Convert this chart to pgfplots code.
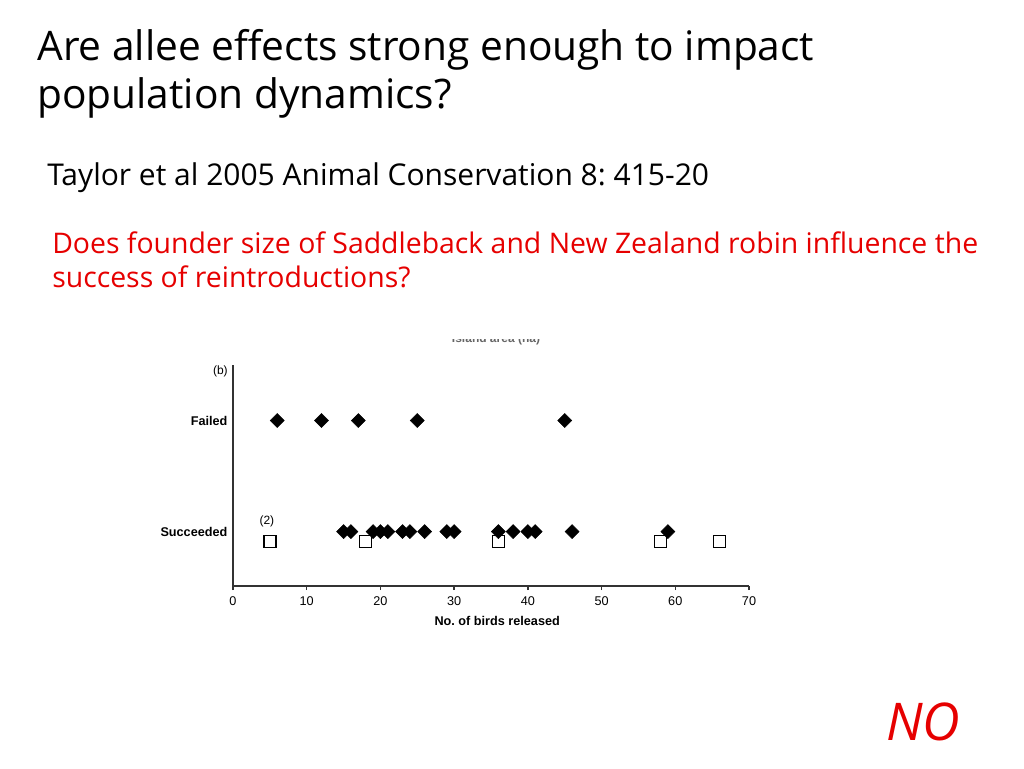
\documentclass[border=0pt]{standalone}
\usepackage{pgfplots}
\pgfplotsset{compat=1.18}
\usepackage{fontspec}
\setmainfont{Liberation Sans}
\newfontfamily\slidefont{Open Sans}
\definecolor{slidered}{RGB}{230,0,0}
\frenchspacing
\begin{document}
\begin{tikzpicture}
\path[fill=white] (0pt,0pt) rectangle (768pt,-576pt);
% slide text
\node[anchor=base west, inner sep=0pt] at (27.75pt,-45pt) {\slidefont\fontsize{30.5}{34}\selectfont Are allee effects strong enough to impact};
\node[anchor=base west, inner sep=0pt] at (27.75pt,-81pt) {\slidefont\fontsize{30.5}{34}\selectfont population dynamics?};
\node[anchor=base west, inner sep=0pt] at (35.25pt,-138.75pt) {\slidefont\fontsize{22.5}{26}\selectfont Taylor et al 2005 Animal Conservation 8: 415-20};
\node[anchor=base west, inner sep=0pt, text=slidered] at (39pt,-189.75pt) {\slidefont\fontsize{21.3}{25}\selectfont Does founder size of Saddleback and New Zealand robin influence the};
\node[anchor=base west, inner sep=0pt, text=slidered] at (39pt,-215.25pt) {\slidefont\fontsize{21.3}{25}\selectfont success of reintroductions?};
\node[anchor=base west, inner sep=0pt, text=slidered] at (664.5pt,-555pt) {\slidefont\itshape\fontsize{39}{43}\selectfont NO};
% clipped caption from the figure above
\begin{scope}
\clip (300pt,-254.5pt) rectangle (450pt,-262pt);
\node[inner sep=0pt, text=black!60] at (372pt,-254.3pt) {\bfseries\fontsize{9}{10}\selectfont Island area (ha)};
\end{scope}
\node[anchor=east, inner sep=0pt] at (171pt,-278.25pt) {\fontsize{9}{10}\selectfont (b)};
\begin{axis}[
  at={(174.75pt,-439.5pt)}, anchor=south west,
  scale only axis, width=387pt, height=165.75pt,
  xmin=0, xmax=70, ymin=-0.49, ymax=1.5,
  axis lines*=left,
  axis line style={line width=1.1pt, black!80},
  xtick={0,10,...,70},
  ytick={0,1}, yticklabels={Succeeded, Failed},
  tick align=outside,
  major tick length=3pt,
  xtick style={line width=1pt, black!80},
  ytick style={draw=none},
  /pgf/number format/assume math mode=true,
  tick label style={font=\fontsize{9.5}{10}\selectfont},
  yticklabel style={font=\bfseries\fontsize{9.5}{10}\selectfont, inner sep=0pt, xshift=-1pt},
  xticklabel style={inner sep=0pt, anchor=north, yshift=-5pt},
  xlabel={\bfseries No.\ of birds released},
  xlabel style={font=\fontsize{9.5}{10}\selectfont, inner sep=0pt, at={(axis description cs:0.512,0)}, anchor=center, yshift=-26.25pt},
  clip=false,
]
\addplot[only marks, mark=square*, mark size=3.7pt, black, mark options={rotate=45}] coordinates {
(6,1) (12,1) (17,1) (25,1) (45,1)
};
\addplot[only marks, mark=square*, mark size=3.7pt, black, mark options={rotate=45}] coordinates {
(15,0) (16,0) (19,0) (20,0) (21,0) (23,0) (24,0) (26,0) (29,0) (30,0) (36,0) (38,0) (40,0) (41,0) (46,0) (59,0)
};
\addplot[only marks, mark=square, mark size=4.5pt, black, mark options={line width=1.1pt, fill=white}] coordinates {
(5,-0.09) (18,-0.09) (36,-0.09) (58,-0.09) (66,-0.09)
};
\node[font=\fontsize{9}{10}\selectfont] at (axis cs:4.6,0.09) {(2)};
\end{axis}
\end{tikzpicture}
\end{document}
